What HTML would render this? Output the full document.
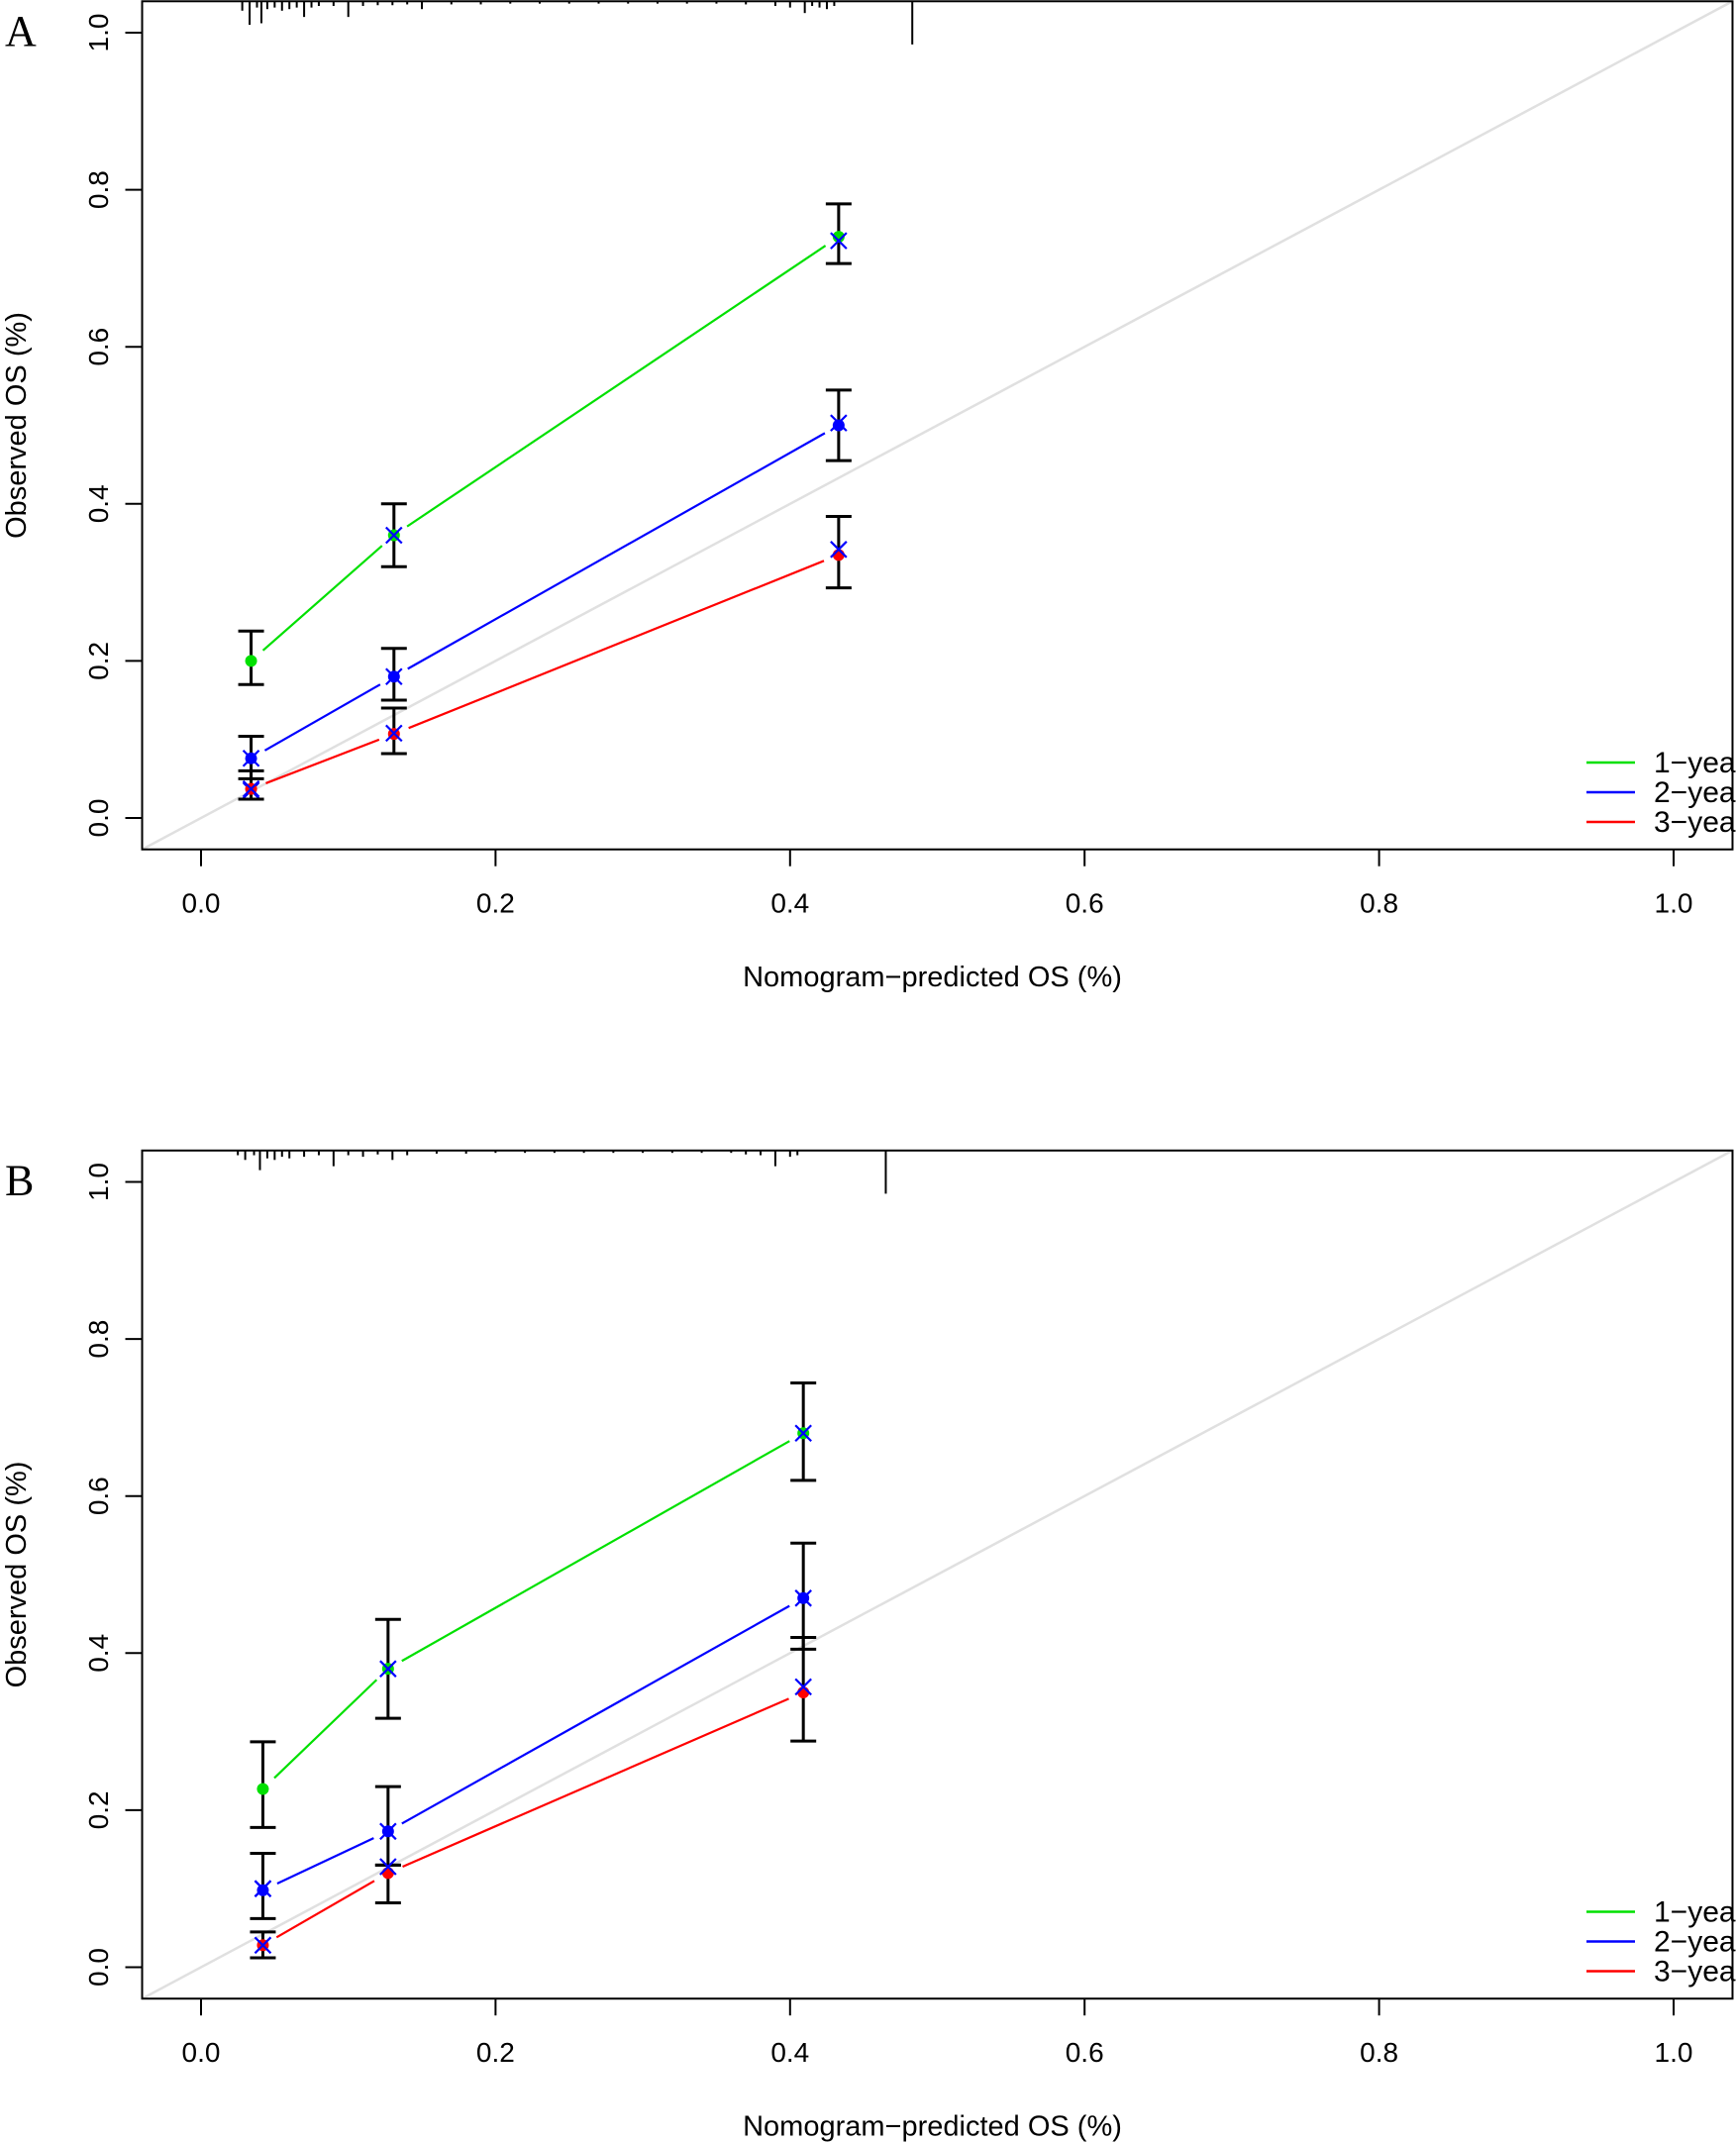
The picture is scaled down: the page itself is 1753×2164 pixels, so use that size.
<!DOCTYPE html>
<html><head><meta charset="utf-8"><style>
html,body{margin:0;padding:0;background:#fff;overflow:hidden}
svg{display:block}
text{font-family:"Liberation Sans",sans-serif}
text.serif{font-family:"Liberation Serif",serif}
</style></head><body>
<svg id="chart" width="1753" height="2164" viewBox="0 0 1753 2164" xmlns="http://www.w3.org/2000/svg"></svg>
<script>
// Panel A data
const aX = [0.034, 0.131, 0.433];
const a1Y = [0.20, 0.36, 0.74];
const a1Lo = [0.17, 0.32, 0.706];
const a1Hi = [0.238, 0.40, 0.782];
const a1K = [0.035, 0.36, 0.735];
const a2Y = [0.076, 0.18, 0.50];
const a2Lo = [0.05, 0.15, 0.455];
const a2Hi = [0.104, 0.216, 0.545];
const a2K = [0.076, 0.18, 0.503];
const a3Y = [0.037, 0.107, 0.335];
const a3Lo = [0.024, 0.082, 0.293];
const a3Hi = [0.06, 0.14, 0.384];
const a3K = [0.037, 0.108, 0.342];
const aRugX = [0.028,0.033,0.038,0.041,0.045,0.05,0.055,0.06,0.065,0.07,0.075,0.08,0.09,0.1,0.11,0.12,0.13,0.14,0.15,0.17,0.19,0.21,0.23,0.25,0.27,0.29,0.31,0.33,0.35,0.37,0.39,0.40,0.41,0.415,0.42,0.425,0.43,0.483];
const aRugH = [0.012,0.03,0.008,0.028,0.01,0.008,0.012,0.01,0.008,0.02,0.008,0.006,0.006,0.02,0.006,0.005,0.005,0.004,0.01,0.004,0.004,0.003,0.003,0.003,0.003,0.003,0.003,0.003,0.003,0.004,0.006,0.008,0.015,0.006,0.008,0.01,0.006,0.055];
// Panel B data
const bX = [0.042, 0.127, 0.409];
const b1Y = [0.227, 0.38, 0.68];
const b1Lo = [0.178, 0.317, 0.62];
const b1Hi = [0.287, 0.443, 0.744];
const b1K = [0.1, 0.38, 0.68];
const b2Y = [0.098, 0.173, 0.47];
const b2Lo = [0.062, 0.13, 0.405];
const b2Hi = [0.145, 0.23, 0.54];
const b2K = [0.1, 0.173, 0.47];
const b3Y = [0.028, 0.12, 0.35];
const b3Lo = [0.012, 0.082, 0.288];
const b3Hi = [0.045, 0.13, 0.42];
const b3K = [0.028, 0.128, 0.357];
const bRugX = [0.025,0.03,0.036,0.04,0.045,0.05,0.055,0.06,0.07,0.08,0.09,0.1,0.11,0.12,0.13,0.14,0.16,0.18,0.2,0.22,0.24,0.26,0.28,0.3,0.32,0.34,0.36,0.37,0.38,0.39,0.40,0.405,0.465];
const bRugH = [0.006,0.012,0.006,0.025,0.01,0.012,0.008,0.01,0.008,0.006,0.02,0.006,0.008,0.005,0.012,0.006,0.004,0.004,0.003,0.003,0.003,0.003,0.003,0.003,0.003,0.003,0.003,0.005,0.006,0.02,0.008,0.006,0.055];
const ticks = [0, 0.2, 0.4, 0.6, 0.8, 1.0];
const tickLabels = ["0.0","0.2","0.4","0.6","0.8","1.0"];
const legendLabels = ["1-year","2-year","3-year"];
const colors = ["#00e000","#0000ff","#ff0000"];

const svg = document.getElementById('chart');
const NS = "http://www.w3.org/2000/svg";
function mk(tag, attrs, parent){const e=document.createElementNS(NS,tag);for(const k in attrs)e.setAttribute(k,attrs[k]);(parent||svg).appendChild(e);return e;}

function panel(letter, offY, xs, series, rugX, rugH){
  const g = mk('g',{});
  
  
  const X = v => 203 + v*1487;
  const Y = v => offY + 826 - v*793;
  const bx0 = X(-0.04), bx1 = X(1.04), by0 = Y(1.04), by1 = Y(-0.04);
  const diag = mk('line',{x1:X(-0.04),y1:Y(-0.04),x2:X(1.04),y2:Y(1.04),stroke:'#e0e0e0','stroke-width':2.5},g);
  
  
  rugX.forEach((v,i)=>{
    const r = mk('line',{x1:X(v),x2:X(v),y1:by0,y2:by0+rugH[i]*793,stroke:'#000','stroke-width':2},g);
    
    
  });
  series.forEach((s,si)=>{
    const c = colors[si];
    for(let i=0;i<xs.length-1;i++){
      const x1=X(xs[i]),y1=Y(s.y[i]),x2=X(xs[i+1]),y2=Y(s.y[i+1]);
      const dx=x2-x1,dy=y2-y1,L=Math.hypot(dx,dy),gp=16;
      const ln = mk('line',{x1:x1+dx/L*gp,y1:y1+dy/L*gp,x2:x2-dx/L*gp,y2:y2-dy/L*gp,stroke:c,'stroke-width':2.2},g);
      
      
    }
    xs.forEach((xv,i)=>{
      const eb = mk('path',{d:`M${X(xv)-13},${Y(s.lo[i])}H${X(xv)+13}M${X(xv)-13},${Y(s.hi[i])}H${X(xv)+13}M${X(xv)},${Y(s.lo[i])}V${Y(s.hi[i])}`,stroke:'#000','stroke-width':3,fill:'none'},g);
      
      
      const pt = mk('circle',{cx:X(xv),cy:Y(s.y[i]),r:6,fill:c},g);
      
      
      const kx=X(xv),ky=Y(s.k[i]),d=8;
      const km = mk('path',{d:`M${kx-d},${ky-d}L${kx+d},${ky+d}M${kx-d},${ky+d}L${kx+d},${ky-d}`,stroke:'#0000ff','stroke-width':2.2},g);
      
      
    });
  });
  const box = mk('rect',{x:bx0,y:by0,width:bx1-bx0,height:by1-by0,fill:'none',stroke:'#000','stroke-width':2},g);
  
  
  ticks.forEach((t,i)=>{
    mk('line',{x1:X(t),x2:X(t),y1:by1,y2:by1+17,stroke:'#000','stroke-width':2},g);
    const tx = mk('text',{x:X(t),y:by1+64,'font-size':28,'text-anchor':'middle'},g);
    tx.textContent = tickLabels[i];
    
    
    mk('line',{x1:bx0,x2:bx0-17,y1:Y(t),y2:Y(t),stroke:'#000','stroke-width':2},g);
    const ty = mk('text',{x:0,y:0,'font-size':28,'text-anchor':'middle',transform:`translate(${bx0-44},${Y(t)}) rotate(-90)`,'dominant-baseline':'central'},g);
    ty.textContent = tickLabels[i];
    
    
  });
  const xl = mk('text',{x:X(0.5)-5,y:offY+996,'font-size':29,'text-anchor':'middle'},g);
  xl.textContent='Nomogram\u2212predicted OS (%)';
  
  
  const yl = mk('text',{x:0,y:0,'font-size':29,'text-anchor':'middle',transform:`translate(26,${Y(0.5)}) rotate(-90)`},g);
  yl.textContent='Observed OS (%)';
  
  
  const pl = mk('text',{x:5,y:offY+46,'font-size':44,'class':'serif'},g);
  pl.textContent=letter;
  
  
  legendLabels.forEach((lab,i)=>{
    const ly = offY + 770 + i*30;
    mk('line',{x1:1602,x2:1651,y1:ly,y2:ly,stroke:colors[i],'stroke-width':2.5},g);
    const lt = mk('text',{x:1670,y:ly+10,'font-size':30},g);
    lt.textContent = lab.replace('-','\u2212');
    
    
  });
}
panel('A', 0, aX, [{y:a1Y,lo:a1Lo,hi:a1Hi,k:a1K},{y:a2Y,lo:a2Lo,hi:a2Hi,k:a2K},{y:a3Y,lo:a3Lo,hi:a3Hi,k:a3K}], aRugX, aRugH);
panel('B', 1160.5, bX, [{y:b1Y,lo:b1Lo,hi:b1Hi,k:b1K},{y:b2Y,lo:b2Lo,hi:b2Hi,k:b2K},{y:b3Y,lo:b3Lo,hi:b3Hi,k:b3K}], bRugX, bRugH);
</script>
</body></html>
